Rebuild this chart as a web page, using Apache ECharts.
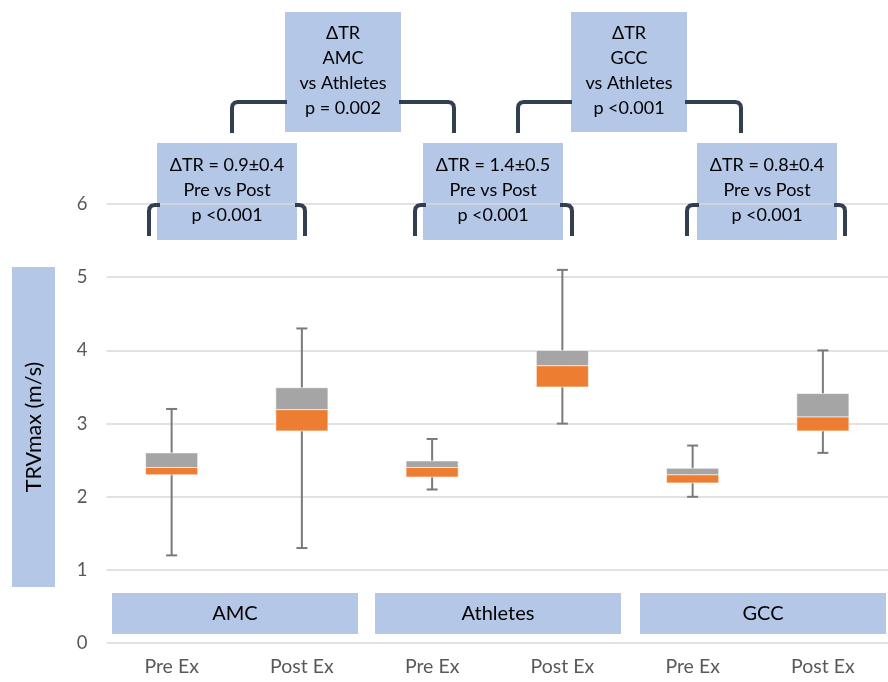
<!DOCTYPE html>
<html>
<head>
<meta charset="utf-8">
<script src="https://cdn.jsdelivr.net/npm/echarts@6/dist/echarts.min.js"></script>
<style>
  html, body { margin: 0; padding: 0; background: #fff; }
  #chart { width: 888px; height: 682px; }
</style>
</head>
<body>
<div id="chart"></div>
<script>
// x categories and y ticks
const categories = ['Pre Ex', 'Post Ex', 'Pre Ex', 'Post Ex', 'Pre Ex', 'Post Ex']
const groups = ['AMC', 'Athletes', 'GCC']
const yTicks = [0, 1, 2, 3, 4, 5, 6]

// box plot values, one per category (m/s)
const mins = [1.2, 1.3, 2.1, 3.0, 2.0, 2.6]
const q1s = [2.3, 2.9, 2.27, 3.5, 2.19, 2.9]
const medians = [2.4, 3.19, 2.4, 3.79, 2.3, 3.09]
const q3s = [2.6, 3.49, 2.49, 4.0, 2.39, 3.41]
const maxs = [3.2, 4.3, 2.79, 5.1, 2.7, 4.0]

// annotation texts
const prePostNotes = [
  ['ΔTR = 0.9±0.4', 'Pre vs Post', 'p <0.001'],
  ['ΔTR = 1.4±0.5', 'Pre vs Post', 'p <0.001'],
  ['ΔTR = 0.8±0.4', 'Pre vs Post', 'p <0.001']
]
const betweenNotes = [
  ['ΔTR', 'AMC', 'vs Athletes', 'p = 0.002'],
  ['ΔTR', 'GCC', 'vs Athletes', 'p <0.001']
]
const yTitle = 'TRVmax (m/s)'

const FONT = 'Lato, "Open Sans", sans-serif'
const BLUE = '#b4c7e7'
const NAVY = '#333f50'

const chart = echarts.init(document.getElementById('chart'))

const boxData = categories.map((c, i) => [i, mins[i], q1s[i], medians[i], q3s[i], maxs[i]])

// text box helper
function noteBox (x, y, w, h, lines) {
  return {
    type: 'group',
    z: 100,
    children: [
      { type: 'rect', shape: { x: x, y: y, width: w, height: h }, style: { fill: BLUE } },
      {
        type: 'text',
        x: x + w / 2,
        y: y + h / 2 - 1,
        style: {
          text: lines.join('\n'),
          font: '18px ' + FONT,
          fill: '#000',
          align: 'center',
          verticalAlign: 'middle',
          lineHeight: 25
        }
      }
    ]
  }
}

// bracket arm: vertical leg at xv from yBottom up to yTop, then horizontal to xh (rounded corner)
function bracket (xv, yBottom, yTop, xh) {
  const r = 6
  const dir = xh > xv ? 1 : -1
  const k = r * (1 - Math.SQRT1_2)
  return {
    type: 'polyline',
    z: 90,
    shape: {
      points: [
        [xv, yBottom],
        [xv, yTop + r],
        [xv + dir * k * 0.35, yTop + r * 0.45],
        [xv + dir * k, yTop + k],
        [xv + dir * r * 0.45, yTop + k * 0.35],
        [xv + dir * r, yTop],
        [xh, yTop]
      ]
    },
    style: { fill: null, stroke: NAVY, lineWidth: 4, lineJoin: 'round' }
  }
}

const graphics = []

// y axis title box
graphics.push({
  type: 'rect', z: 100,
  shape: { x: 12, y: 267, width: 43, height: 320 },
  style: { fill: BLUE }
})
graphics.push({
  type: 'text', z: 101,
  x: 34, y: 427, rotation: Math.PI / 2,
  style: { text: yTitle, font: '21.5px ' + FONT, fill: '#000', align: 'center', verticalAlign: 'middle' }
})

// group bands at the bottom
const bandX = [112, 375, 640]
groups.forEach((g, i) => {
  graphics.push({
    type: 'group', z: 100,
    children: [
      { type: 'rect', shape: { x: bandX[i], y: 593, width: 246, height: 41 }, style: { fill: BLUE } },
      {
        type: 'text', x: bandX[i] + 123, y: 614,
        style: { text: g, font: '20px ' + FONT, fill: '#000', align: 'center', verticalAlign: 'middle' }
      }
    ]
  })
})

// brackets (pre vs post)
graphics.push(bracket(149, 236, 205, 160))
graphics.push(bracket(305, 236, 205, 295))
graphics.push(bracket(415, 236, 205, 426))
graphics.push(bracket(572, 236, 205, 560))
graphics.push(bracket(687, 236, 205, 699))
graphics.push(bracket(845, 236, 205, 834))
// brackets (between groups)
graphics.push(bracket(232, 133, 102, 287))
graphics.push(bracket(454, 133, 102, 399))
graphics.push(bracket(518, 133, 102, 572))
graphics.push(bracket(741, 133, 102, 685))

// note boxes
const preBoxX = [157, 423, 697]
prePostNotes.forEach((lines, i) => graphics.push(noteBox(preBoxX[i], 143, 140, 97, lines)))
const topBoxX = [285, 571]
betweenNotes.forEach((lines, i) => graphics.push(noteBox(topBoxX[i], 12, 116, 120, lines)))

const option = {
  animation: false,
  backgroundColor: '#fff',
  grid: { left: 106.5, top: 204, width: 795, height: 439.2, containLabel: false },
  xAxis: {
    type: 'category',
    data: categories,
    axisLine: { show: false },
    axisTick: { show: false },
    axisLabel: { color: '#595959', fontSize: 19.5, fontFamily: FONT, margin: 14 },
    splitLine: { show: false }
  },
  yAxis: {
    type: 'value',
    min: yTicks[0],
    max: yTicks[yTicks.length - 1],
    interval: 1,
    axisLine: { show: false },
    axisTick: { show: false },
    axisLabel: { color: '#595959', fontSize: 18.5, fontFamily: FONT, margin: 19 },
    splitLine: { lineStyle: { color: '#d9d9d9', width: 1.5 } }
  },
  series: [{
    type: 'custom',
    data: boxData,
    encode: { x: 0, y: [1, 2, 3, 4, 5] },
    renderItem: function (params, api) {
      const i = api.value(0)
      const pMin = api.coord([i, api.value(1)])
      const pQ1 = api.coord([i, api.value(2)])
      const pMed = api.coord([i, api.value(3)])
      const pQ3 = api.coord([i, api.value(4)])
      const pMax = api.coord([i, api.value(5)])
      const cx = pMin[0]
      const halfW = api.size([1, 0])[0] * 0.2
      const cap = 5.5
      const ws = { stroke: '#7a7a7a', lineWidth: 2 }
      return {
        type: 'group',
        children: [
          { type: 'line', shape: { x1: cx, y1: pMin[1], x2: cx, y2: pMax[1] }, style: ws },
          { type: 'line', shape: { x1: cx - cap, y1: pMin[1], x2: cx + cap, y2: pMin[1] }, style: ws },
          { type: 'line', shape: { x1: cx - cap, y1: pMax[1], x2: cx + cap, y2: pMax[1] }, style: ws },
          {
            type: 'rect',
            shape: { x: cx - halfW, y: pQ3[1], width: halfW * 2, height: pMed[1] - pQ3[1] },
            style: { fill: '#a5a5a5', stroke: 'rgba(255,255,255,0.6)', lineWidth: 1 }
          },
          {
            type: 'rect',
            shape: { x: cx - halfW, y: pMed[1], width: halfW * 2, height: pQ1[1] - pMed[1] },
            style: { fill: '#ed7d31', stroke: 'rgba(255,255,255,0.6)', lineWidth: 1 }
          }
        ]
      }
    }
  }],
  graphic: graphics
}

chart.setOption(option)
</script>
</body>
</html>
